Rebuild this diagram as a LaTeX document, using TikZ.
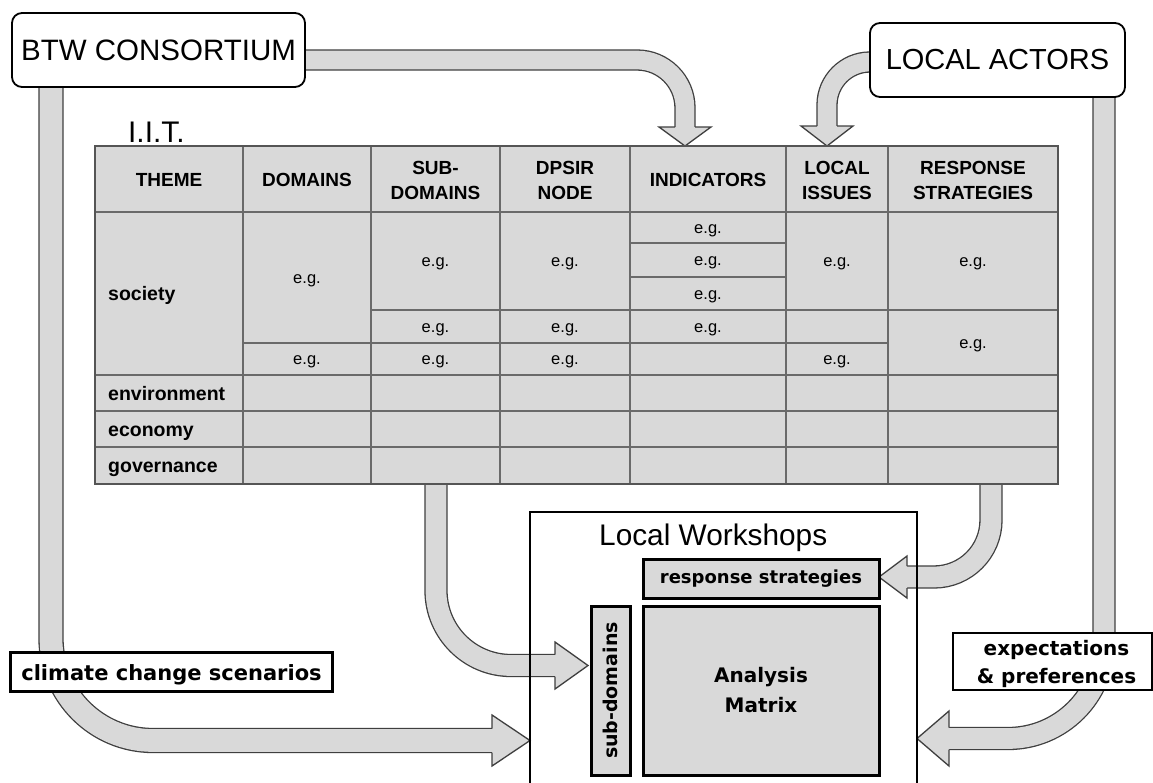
\documentclass[tikz,border=0pt]{standalone}
\usepackage{fontspec}
\setmainfont{Liberation Sans}
\newfontfamily\dvs{DejaVu Sans}
\newcommand\dvsz[2]{\dvs\bfseries\fontsize{#1}{#2}\selectfont}
\usetikzlibrary{calc}
\pgfdeclarelayer{bg}
\pgfsetlayers{bg,main}
\definecolor{bar}{HTML}{D9D9D9}
\definecolor{barline}{HTML}{3F3F3F}
\definecolor{tline}{HTML}{6A6A6A}
\definecolor{tborder}{HTML}{555555}
\begin{document}
\begin{tikzpicture}[x=1pt,y=-1pt,
  fatband/.style={draw=barline, line width=1.3pt, double=bar, double distance=#1},
  headtip/.style={fill=bar, draw=barline, line width=1.3pt, line join=miter},
  title/.style={font=\fontsize{29.8}{34}\selectfont, inner sep=0pt},
  rbox/.style={draw=black, line width=1.8pt, rounded corners=10pt, fill=white, inner sep=0pt, outer sep=0pt, font=\fontsize{29.5}{34}\selectfont},
  hdr/.style={font=\fontsize{19}{25}\selectfont\bfseries, align=center, inner sep=0pt},
  eg/.style={font=\fontsize{16.5}{20}\selectfont, inner sep=0pt, anchor=base},
  rowlab/.style={font=\fontsize{19.5}{23}\selectfont\bfseries, inner sep=0pt, anchor=base west},
  tl/.style={draw=tline, line width=1.5pt},
  gbox/.style={draw=black, line width=3pt, fill=bar, inner sep=0pt, outer sep=0pt},
  wbox/.style={draw=black, line width=3pt, fill=white, inner sep=0pt, outer sep=0pt},
]
\useasboundingbox (0,0) rectangle (1153,782);
\clip (0,0) rectangle (1153,782);

% ---------- table ----------
\node[fill=bar, minimum width=963pt, minimum height=338pt, inner sep=0pt, outer sep=0pt] (tbl) at (576.5,315) {};
\foreach \x in {243,371,500,630,786,888} \draw[tl] (\x,146) -- (\x,484);
\foreach \y in {212,375,411,447} \draw[tl] (95,\y) -- (1058,\y);
\draw[tl] (630,243) -- (786,243);
\draw[tl] (630,277) -- (786,277);
\draw[tl] (371,310) -- (1058,310);
\draw[tl] (243,343) -- (888,343);
\draw[draw=tborder, line width=2.5pt] (tbl.north west) rectangle (tbl.south east);

\node[hdr] (hTheme) at (169,180) {THEME};
\node[hdr] (hDom) at (307,180) {DOMAINS};
\node[hdr] (hSub) at (435.5,180) {SUB-\\DOMAINS};
\node[hdr] (hDps) at (565,180) {DPSIR\\NODE};
\node[hdr] (hInd) at (708,180) {INDICATORS};
\node[hdr] (hLoc) at (837,180) {LOCAL\\ISSUES};
\node[hdr] (hRes) at (973,180) {RESPONSE\\STRATEGIES};

\node[rowlab] (rSoc) at (108,300) {society};
\node[rowlab] (rEnv) at (108,400) {environment};
\node[rowlab] (rEco) at (108,436) {economy};
\node[rowlab] (rGov) at (108,472) {governance};

\foreach \x/\y [count=\i] in {307/283, 307/364.5,
  435.5/266.5, 435.5/332, 435.5/364.5,
  565/266.5, 565/332, 565/364.5,
  708/233, 708/265.5, 708/299, 708/332,
  837/266.5, 837/364.5,
  973/266.5, 973/348}
  \node[eg] (eg\i) at (\x,\y) {e.g.};

% ---------- boxes ----------
\node[rbox, minimum width=293pt, minimum height=74pt] (btw) at (158.5,50) {BTW CONSORTIUM};
\node[rbox, minimum width=255pt, minimum height=74pt, font=\fontsize{29}{34}\selectfont] (la) at (997.5,60) {LOCAL ACTORS};
\node[title, anchor=base west] (iit) at (128,142) {I.I.T.};

\node[draw=black, line width=1.5pt, minimum width=387pt, minimum height=320pt, inner sep=0pt, outer sep=0pt] (ws) at (723.5,672) {};
\node[title, anchor=base west] (wst) at (599,545) {Local Workshops};
\node[gbox, minimum width=236pt, minimum height=39pt, font=\dvsz{18}{22}] (rs) at (761,578.5) {response strategies};
\node[gbox, minimum width=236pt, minimum height=169pt, align=center, font=\dvsz{20}{30}] (am) at (761,690.5) {Analysis\\Matrix};
\node[gbox, minimum width=39pt, minimum height=169pt] (sd) at (610.5,690.5) {};
\node[rotate=90, inner sep=0pt, font=\dvsz{19}{23}] (sdt) at (sd.center) {sub-domains};

\node[wbox, minimum width=322pt, minimum height=39pt] (ccs) at (171,671.5) {};
\node[anchor=base, inner sep=0pt, font=\dvsz{21}{25}] (ccst) at (171.5,680) {climate change scenarios};
\node[wbox, line width=2.5pt, minimum width=199pt, minimum height=57pt] (exb) at (1052.5,661.5) {};
\node[align=center, inner sep=0pt, font=\dvsz{20}{28}] (ext) at (1056.5,664) {expectations\\\& preferences};

% ---------- arrows (behind) ----------
\begin{pgfonlayer}{bg}
\fill[white] (0,0) rectangle (1153,782);
\coordinate (btwE) at ([xshift=-6pt]btw.east);
\coordinate (btwS) at ([yshift=6pt]btw.south);
\coordinate (laW) at ([xshift=6pt]la.west);
\coordinate (laS) at ([yshift=6pt]la.south);
\coordinate (tS) at ([yshift=10pt]tbl.south);
\coordinate (sdW) at ([xshift=-3pt]sd.west);

% BTW -> indicators
\draw[fatband=18.7pt, rounded corners=48pt] (btwE |- 0,60) -- (685,60) -- (685,127);
\filldraw[headtip] (675,127) -- (659,127) -- (685,0 |- tbl.north) -- (711,127) -- (695,127);

% local actors -> local issues
\draw[fatband=18.7pt, rounded corners=43pt] (laW |- 0,62) -- (827,62) -- (827,126);
\filldraw[headtip] (817,126) -- (801,126) -- (827,0 |- tbl.north) -- (853,126) -- (837,126);

% BTW -> workshops (climate change scenarios)
\draw[fatband=22.7pt, rounded corners=102pt] (btwS -| 51,0) -- (51,740.5) -- (492,740.5);
\filldraw[headtip] (492,728.5) -- (492,715) -- (ws.west |- 0,740.5) -- (492,766) -- (492,752.5);

% table -> sub-domains
\draw[fatband=20.7pt, rounded corners=75pt] (tS -| 436,0) -- (436,665.5) -- (555,665.5);
\filldraw[headtip] (555,654.5) -- (555,642) -- (sdW |- 0,665.5) -- (555,689) -- (555,676.5);

% table -> response strategies
\draw[fatband=20.7pt, rounded corners=57pt] (tS -| 991,0) -- (991,577) -- (907,577);
\filldraw[headtip] (907,566) -- (907,556) -- (rs.east |- 0,577) -- (907,598) -- (907,588);

% local actors -> workshops (expectations & preferences)
\draw[fatband=20.7pt, rounded corners=96pt] (laS -| 1104,0) -- (1104,738.5) -- (949,738.5);
\filldraw[headtip] (949,727.5) -- (949,711) -- (ws.east |- 0,738.5) -- (949,766) -- (949,749.5);
\end{pgfonlayer}
\end{tikzpicture}
\end{document}
